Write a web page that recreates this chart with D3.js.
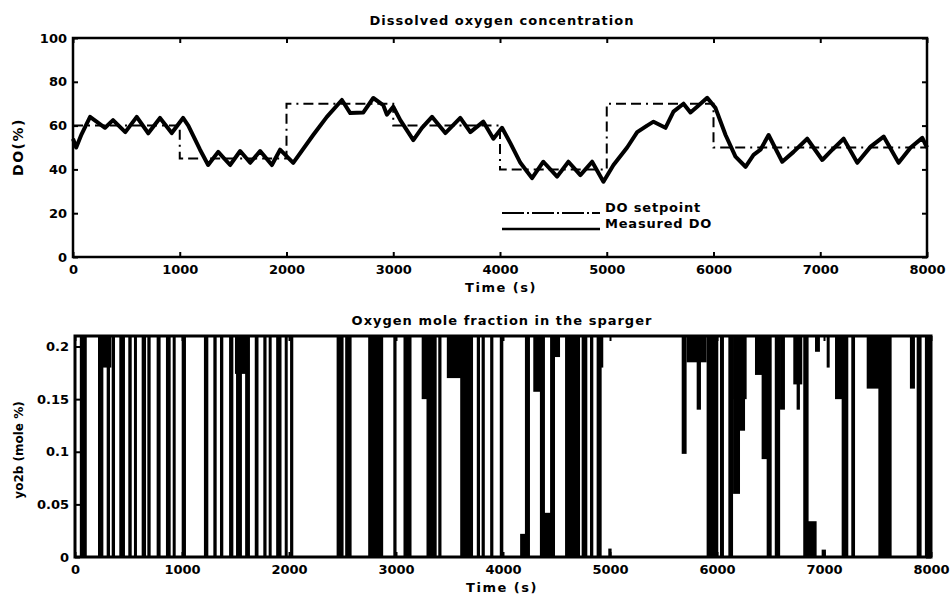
<!DOCTYPE html>
<html>
<head>
<meta charset="utf-8">
<script src="https://cdn.jsdelivr.net/npm/d3@7"></script>
<style>
  html, body { margin: 0; padding: 0; background: #fff; }
  svg { display: block; }
  text { font-family: "DejaVu Sans", sans-serif; font-weight: bold; fill: #000; }
  .axis path, .axis line { stroke: #000; }
  .axis text { font-size: 13px; }
</style>
</head>
<body>
<svg id="chart" width="951" height="595"></svg>
<script>
// setpoint steps (s, %)
const setpointTimes = [0, 1000, 2000, 3000, 4000, 5000, 6000, 8000];
const setpointValues = [60, 45, 70, 60, 40, 70, 50, 50];

// measured DO (s, %)
const measuredTimes = [0, 30, 80, 160, 300, 375, 490, 597, 705, 815, 925, 1031, 1080, 1190, 1266,
  1360, 1472, 1566, 1660, 1753, 1863, 1940, 2063, 2250, 2378, 2519, 2597, 2720, 2813, 2906,
  2940, 3000, 3066, 3188, 3269, 3363, 3488, 3628, 3722, 3844, 3938, 4019, 4097, 4191, 4300,
  4406, 4535, 4641, 4753, 4863, 4969, 5063, 5191, 5285, 5378, 5438, 5550, 5625, 5719, 5784,
  5844, 5941, 6019, 6113, 6206, 6300, 6375, 6440, 6516, 6644, 6750, 6878, 7019, 7113, 7219,
  7347, 7472, 7594, 7734, 7847, 7956, 8000];
const measuredValues = [54, 50, 56, 64, 59, 62.5, 57, 64, 56.5, 63.5, 56.6, 63.5, 60, 49, 42,
  48, 42, 48.4, 43, 48.4, 42, 49, 43, 55.7, 64, 71.7, 65.7, 66, 72.6, 69.4,
  65, 68.6, 62.5, 53.4, 59, 64, 56.6, 63.5, 57, 61.8, 54, 59, 52, 43, 36,
  43.5, 36.7, 43.5, 37.4, 43.5, 34.4, 42, 50, 57, 60, 61.8, 59, 66.4, 70, 66,
  68.5, 72.7, 68, 55.7, 45.8, 41.2, 46.6, 49, 55.7, 43.5, 48, 54, 44.3, 49, 54,
  43, 50.4, 55, 43, 50, 54.4, 50];

// sparger valve switching: [start s, end s, low mole frac, high mole frac (default 0.21)]
const spargerPulses = [
  [45, 110, 0], [215, 265, 0], [250, 340, 0.18], [296, 327, 0], [343, 374, 0],
  [414, 467, 0], [498, 530, 0], [551, 576, 0], [623, 664, 0], [676, 707, 0],
  [763, 800, 0], [850, 894, 0], [913, 935, 0], [997, 1037, 0], [1205, 1246, 0],
  [1293, 1324, 0], [1355, 1386, 0], [1440, 1480, 0], [1495, 1605, 0.174], [1505, 1560, 0],
  [1590, 1635, 0], [1680, 1715, 0], [1760, 1790, 0], [1810, 1838, 0], [1880, 1930, 0],
  [1960, 1985, 0], [2010, 2040, 0], [2445, 2510, 0], [2525, 2585, 0], [2740, 2800, 0],
  [2790, 2880, 0], [2975, 3005, 0], [3070, 3145, 0], [3240, 3335, 0.15], [3285, 3380, 0],
  [3395, 3425, 0], [3475, 3615, 0.17], [3600, 3720, 0], [3755, 3785, 0], [3800, 3830, 0],
  [3880, 3910, 0], [3970, 4003, 0], [4160, 4237, 0, 0.022], [4205, 4252, 0], [4283, 4377, 0.157],
  [4345, 4392, 0], [4377, 4486, 0, 0.042], [4440, 4486, 0], [4486, 4533, 0.19], [4580, 4720, 0],
  [4735, 4788, 0], [4813, 4844, 0], [4875, 4922, 0], [4906, 4937, 0.18], [4984, 5015, 0, 0.008],
  [5670, 5716, 0.098], [5716, 5903, 0.185], [5810, 5850, 0.14], [5903, 6012, 0], [6028, 6065, 0],
  [6106, 6150, 0], [6150, 6215, 0.06], [6153, 6277, 0.15], [6215, 6262, 0.12],
  [6355, 6480, 0.173], [6417, 6500, 0.093], [6464, 6511, 0], [6540, 6590, 0], [6589, 6635, 0.14],
  [6713, 6797, 0.164], [6744, 6775, 0.14], [6806, 6856, 0], [6838, 6931, 0, 0.034],
  [6916, 6962, 0.195], [6978, 7018, 0, 0.007], [7025, 7050, 0.18], [7103, 7196, 0.15],
  [7165, 7227, 0], [7255, 7290, 0], [7399, 7539, 0.16], [7508, 7632, 0], [7803, 7850, 0.16],
  [7866, 7912, 0], [7943, 8000, 0]
];

const timeTicks = [0, 1000, 2000, 3000, 4000, 5000, 6000, 7000, 8000];
const doTicks = [0, 20, 40, 60, 80, 100];
const fracTicks = [0, 0.05, 0.1, 0.15, 0.2];
const fracMax = 0.21;

let svg = d3.select("#chart");

// draws the box with inward ticks on all four sides, MATLAB style
function frame(g, x, y, yTicks, yFormat, boxWidth) {
  let [x0, x1] = x.range();
  let [y0, y1] = y.range();

  g.append("g").attr("class", "axis")
    .attr("transform", `translate(0,${y0})`)
    .call(d3.axisBottom(x).tickValues(timeTicks).tickSize(-5).tickPadding(8).tickFormat(d3.format("d")))
    .call(a => a.select(".domain").remove());
  g.append("g").attr("class", "axis")
    .attr("transform", `translate(0,${y1})`)
    .call(d3.axisTop(x).tickValues(timeTicks).tickSize(-5).tickFormat(""))
    .call(a => a.select(".domain").remove());
  g.append("g").attr("class", "axis")
    .attr("transform", `translate(${x0},0)`)
    .call(d3.axisLeft(y).tickValues(yTicks).tickSize(-5).tickPadding(6).tickFormat(yFormat))
    .call(a => a.select(".domain").remove());
  g.append("g").attr("class", "axis")
    .attr("transform", `translate(${x1},0)`)
    .call(d3.axisRight(y).tickValues(yTicks).tickSize(-5).tickFormat(""))
    .call(a => a.select(".domain").remove());

  g.selectAll(".axis line").attr("stroke-width", 2);

  g.append("rect")
    .attr("x", x0).attr("y", y1)
    .attr("width", x1 - x0).attr("height", y0 - y1)
    .attr("fill", "none").attr("stroke", "#000").attr("stroke-width", boxWidth);
}

// ---- upper panel: dissolved oxygen ----
let xDo = d3.scaleLinear().domain([0, 8000]).range([73, 927]);
let yDo = d3.scaleLinear().domain([0, 100]).range([257, 38]);
let doPanel = svg.append("g");

let setpointData = setpointTimes.map((t, i) => [t, setpointValues[i]]);
let measuredData = measuredTimes.map((t, i) => [t, measuredValues[i]]);

doPanel.append("path")
  .datum(setpointData)
  .attr("fill", "none").attr("stroke", "#000").attr("stroke-width", 2)
  .attr("stroke-dasharray", "10,5,2,5,10,5")
  .attr("d", d3.line().x(d => xDo(d[0])).y(d => yDo(d[1])).curve(d3.curveStepAfter));

doPanel.append("path")
  .datum(measuredData)
  .attr("fill", "none").attr("stroke", "#000").attr("stroke-width", 4)
  .attr("stroke-linejoin", "round")
  .attr("d", d3.line().x(d => xDo(d[0])).y(d => yDo(d[1])));

frame(doPanel, xDo, yDo, doTicks, d3.format("d"), 2.5);

doPanel.append("text").attr("x", 502).attr("y", 25).attr("text-anchor", "middle")
  .attr("font-size", 13).attr("letter-spacing", 1).text("Dissolved oxygen concentration");
doPanel.append("text").attr("x", 501).attr("y", 292).attr("text-anchor", "middle")
  .attr("font-size", 13).attr("letter-spacing", 1.5).text("Time (s)");
doPanel.append("text").attr("transform", "translate(23,147) rotate(-90)").attr("text-anchor", "middle")
  .attr("font-size", 14).attr("letter-spacing", 1.5).text("DO(%)");

// legend
let legendX = d3.scaleLinear().domain([0, 1]).range([502, 600]);
let legend = doPanel.append("g");
legend.append("line")
  .attr("x1", legendX(0)).attr("x2", legendX(1)).attr("y1", 213).attr("y2", 213)
  .attr("stroke", "#000").attr("stroke-width", 2).attr("stroke-dasharray", "22,3,2,3");
legend.append("line")
  .attr("x1", legendX(0)).attr("x2", legendX(1)).attr("y1", 229).attr("y2", 229)
  .attr("stroke", "#000").attr("stroke-width", 2.5);
legend.append("text").attr("x", 605).attr("y", 212).attr("font-size", 13)
  .attr("letter-spacing", 0.8).text("DO setpoint");
legend.append("text").attr("x", 605).attr("y", 228).attr("font-size", 13)
  .attr("letter-spacing", 0.8).text("Measured DO");

// ---- lower panel: sparger oxygen mole fraction ----
let xSp = d3.scaleLinear().domain([0, 8000]).range([75, 931]);
let ySp = d3.scaleLinear().domain([0, fracMax]).range([557, 336]);
let spPanel = svg.append("g");

spPanel.append("g").selectAll("rect")
  .data(spargerPulses)
  .join("rect")
  .attr("x", d => xSp(d[0]))
  .attr("width", d => Math.max(3, xSp(d[1]) - xSp(d[0])))
  .attr("y", d => ySp(d.length > 3 ? d[3] : fracMax))
  .attr("height", d => ySp(d[2]) - ySp(d.length > 3 ? d[3] : fracMax))
  .attr("fill", "#000");

frame(spPanel, xSp, ySp, fracTicks, d => d === 0 ? "0" : String(d), 3);

spPanel.append("text").attr("x", 502).attr("y", 325).attr("text-anchor", "middle")
  .attr("font-size", 13).attr("letter-spacing", 1).text("Oxygen mole fraction in the sparger");
spPanel.append("text").attr("x", 502).attr("y", 592).attr("text-anchor", "middle")
  .attr("font-size", 13).attr("letter-spacing", 1.5).text("Time (s)");
spPanel.append("text").attr("transform", "translate(23,450) rotate(-90)").attr("text-anchor", "middle")
  .attr("font-size", 12).text("yo2b (mole %)");
</script>
</body>
</html>
